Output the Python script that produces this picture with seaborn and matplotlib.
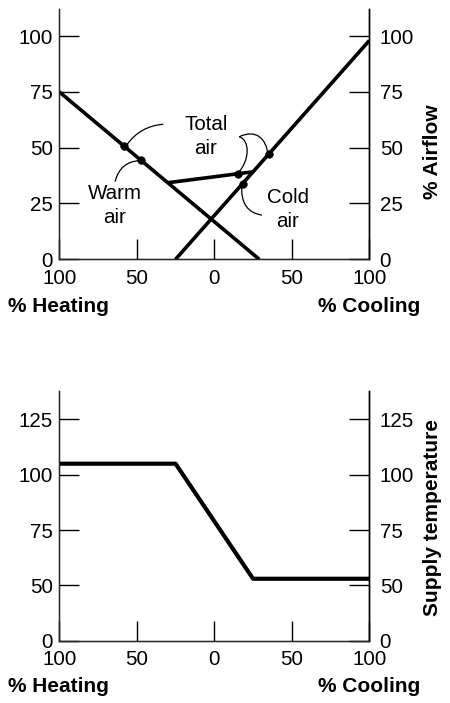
import numpy as np
import pandas as pd
import matplotlib
matplotlib.use("Agg")
import matplotlib.pyplot as plt
from matplotlib.path import Path
from matplotlib.patches import PathPatch
import seaborn as sns

# ---- data -----------------------------------------------------------------
# x axis: -100 = 100 % heating, +100 = 100 % cooling
x_ticks = [-100, -50, 0, 50, 100]
x_tick_labels = ["100", "50", "0", "50", "100"]

warm_x = [-100, 29]
warm_y = [75, 0]
cold_x = [-25, 100]
cold_y = [0, 98]
total_x = [-30, 25]
total_y = [34.3, 39.2]

warm_dot_x = [-58, -47.5]
warm_dot_y = [50.6, 44.5]
total_dot_x = [15.5]
total_dot_y = [38.4]
cold_dot_x = [18.3, 35]
cold_dot_y = [33.9, 47.0]

airflow_ticks = [0, 25, 50, 75, 100]

# supply temperature schedule (the scale is truncated below 50)
temp_x = [-100, -25, 25, 100]
temp_y = [105, 105, 53, 53]
temp_ticks = [25, 50, 75, 100, 125]
temp_tick_labels = ["0", "50", "75", "100", "125"]

# ---- style ----------------------------------------------------------------
sns.set_style("ticks")
plt.rcParams["font.family"] = ["Liberation Sans", "DejaVu Sans"]
plt.rcParams["text.color"] = "black"
plt.rcParams["axes.labelcolor"] = "black"

W, H = 450, 703
fig = plt.figure(figsize=(W / 100, H / 100), dpi=100)

LINE_W = 2.6
SPINE_W = 1.0
TICK_LEN = 14.4
FS = 14.8
LAB_FS = 15


def frame(ax, ylim, yticks, ylabels):
    ax.set_xlim(-100, 100)
    ax.set_ylim(*ylim)
    ax.set_xticks(x_ticks)
    ax.set_xticklabels(x_tick_labels)
    ax.set_yticks(yticks)
    ax.set_yticklabels(ylabels)
    ax.spines["top"].set_visible(False)
    for s in ("left", "right", "bottom"):
        ax.spines[s].set_linewidth(SPINE_W)
        ax.spines[s].set_color("black")
    ax.tick_params(axis="x", direction="in", length=TICK_LEN, width=SPINE_W,
                   pad=7, labelsize=FS, colors="black")
    ax.tick_params(axis="y", direction="in", length=TICK_LEN, width=SPINE_W,
                   pad=4.5, labelsize=FS, colors="black")
    ax.set_xlabel("")
    ax.set_ylabel("")
    ax.set_facecolor("white")

    ax2 = ax.twinx()
    ax2.set_ylim(*ylim)
    ax2.set_yticks(yticks)
    ax2.set_yticklabels(ylabels)
    ax2.spines["top"].set_visible(False)
    ax2.spines["right"].set_linewidth(SPINE_W)
    ax2.spines["right"].set_color("black")
    ax2.tick_params(axis="y", direction="in", length=TICK_LEN, width=SPINE_W,
                    pad=7.5, labelsize=FS, colors="black")
    return ax2


def seg(ax, xs, ys, lw):
    df = pd.DataFrame({"x": xs, "y": ys})
    sns.lineplot(data=df, x="x", y="y", ax=ax, color="black", lw=lw,
                 sort=False, estimator=None, solid_capstyle="butt")


def curve(ax, verts, codes):
    ax.add_patch(PathPatch(Path(verts, codes), fill=False, lw=0.9,
                           edgecolor="black", zorder=4))


# ---- airflow chart --------------------------------------------------------
ax1 = fig.add_axes([59.3 / W, 1 - 259.3 / H, 310 / W, 250 / H])
seg(ax1, warm_x, warm_y, LINE_W)
seg(ax1, cold_x, cold_y, LINE_W)
seg(ax1, total_x, total_y, LINE_W)
dots = pd.DataFrame({"x": warm_dot_x + total_dot_x + cold_dot_x,
                     "y": warm_dot_y + total_dot_y + cold_dot_y})
sns.scatterplot(data=dots, x="x", y="y", ax=ax1, color="black", s=30,
                edgecolor="black", zorder=5)
frame(ax1, (0, 112), airflow_ticks, [str(t) for t in airflow_ticks])

Q = [Path.MOVETO, Path.CURVE3, Path.CURVE3]
C = [Path.MOVETO, Path.CURVE4, Path.CURVE4, Path.CURVE4,
     Path.CURVE4, Path.CURVE4, Path.CURVE4]
curve(ax1, [(-32.9, 60.5), (-47.9, 59.7), (-56.5, 51.2)], Q)
curve(ax1, [(-48.4, 44.2), (-60.8, 43.7), (-64.0, 34.8)], Q)
curve(ax1, [(15.5, 38.8), (23.0, 44.5), (23.0, 53.4), (16.1, 54.9),
            (27.0, 58.5), (33.5, 54.0), (34.6, 47.0)], C)
curve(ax1, [(17.7, 33.3), (16.6, 21.2), (30.8, 19.8)], Q)

for tx, ty, s in [(-5.4, 55.0, "Total\nair"), (-64.4, 24.0, "Warm\nair"),
                  (47.5, 22.4, "Cold\nair")]:
    ax1.text(tx, ty, s, ha="center", va="center", fontsize=FS,
             linespacing=1.3, multialignment="center", color="black")

# ---- supply temperature chart ---------------------------------------------
ax3 = fig.add_axes([59.3 / W, 1 - 640.7 / H, 310 / W, 250 / H])
seg(ax3, temp_x, temp_y, 3.0)
frame(ax3, (25, 138), temp_ticks, temp_tick_labels)

# ---- axis titles ----------------------------------------------------------
for yb in (311.7, 691.7):
    fig.text(8.3 / W, 1 - yb / H, "% Heating", fontsize=LAB_FS,
             fontweight="bold", ha="left", va="baseline")
    fig.text(420.7 / W, 1 - yb / H, "% Cooling", fontsize=LAB_FS,
             fontweight="bold", ha="right", va="baseline")
fig.text(433 / W, 1 - 151.5 / H, "% Airflow", fontsize=LAB_FS,
         fontweight="bold", rotation=90, ha="center", va="center")
fig.text(433 / W, 1 - 517.5 / H, "Supply temperature", fontsize=LAB_FS,
         fontweight="bold", rotation=90, ha="center", va="center")

fig.savefig("out.png", dpi=100, facecolor="white")
